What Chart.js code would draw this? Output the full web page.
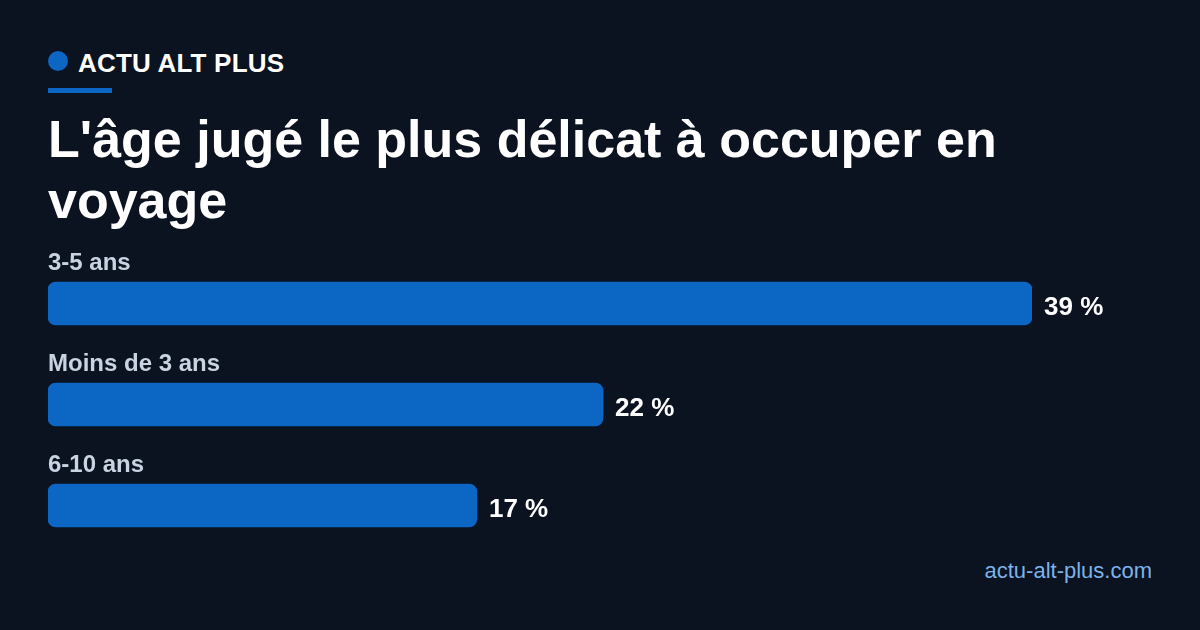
<!DOCTYPE html>
<html lang="fr">
<head>
<meta charset="utf-8">
<title>L'âge jugé le plus délicat à occuper en voyage</title>
<script src="https://cdn.jsdelivr.net/npm/chart.js@4/dist/chart.umd.min.js"></script>
<style>
  html, body { margin: 0; padding: 0; }
  body {
    width: 1200px; height: 630px; overflow: hidden; position: relative;
    background: #0b1220; color: #fff;
    font-family: "Liberation Sans", Arial, sans-serif;
  }
  .brand { position: absolute; left: 48px; top: 48px; display: flex; align-items: center; }
  .dot { width: 20px; height: 20px; border-radius: 50%; background: #0b66c4; margin-right: 10px; position: relative; top: -3px; }
  .brand span { font-weight: bold; font-size: 26px; letter-spacing: 0.2px; }
  .rule { position: absolute; left: 48px; top: 88px; width: 64px; height: 5px; background: #0b66c4; }
  h1 {
    position: absolute; left: 48px; top: 109px; width: 1104px; margin: 0;
    font-size: 52px; line-height: 61px; font-weight: bold;
  }
  .chart { position: absolute; left: 48px; top: 253px; width: 1104px; height: 303px; }
  .source { position: absolute; right: 48px; top: 558px; font-size: 22px; color: #7cb3ea; }
</style>
</head>
<body>
<div class="brand"><div class="dot"></div><span>ACTU ALT PLUS</span></div>
<div class="rule"></div>
<h1>L'âge jugé le plus délicat à occuper en voyage</h1>
<div class="chart"><canvas id="myChart"></canvas></div>
<div class="source">actu-alt-plus.com</div>

<script>
// donnees
const categories = ['3-5 ans', 'Moins de 3 ans', '6-10 ans'];
const values = [39, 22, 17];
const valueLabels = ['39 %', '22 %', '17 %'];

// libelles au-dessus des barres + valeur a droite
const barText = {
    id: 'barText',
    afterDatasetsDraw(chart) {
        const ctx = chart.ctx;
        const meta = chart.getDatasetMeta(0);
        ctx.save();
        meta.data.forEach((bar, i) => {
            const top = bar.y - bar.height / 2;
            ctx.font = 'bold 24px "Liberation Sans", Arial, sans-serif';
            ctx.fillStyle = '#c9d4e2';
            ctx.textAlign = 'left';
            ctx.textBaseline = 'alphabetic';
            ctx.fillText(categories[i], chart.chartArea.left, top - 12);

            ctx.font = 'bold 26px "Liberation Sans", Arial, sans-serif';
            ctx.fillStyle = '#ffffff';
            ctx.textBaseline = 'middle';
            ctx.fillText(valueLabels[i], bar.x + 12, bar.y + 4);
        });
        ctx.restore();
    }
};

new Chart(document.getElementById('myChart'), {
    type: 'bar',
    data: {
        labels: categories,
        datasets: [{
            data: values,
            backgroundColor: '#0b66c4',
            borderRadius: 8,
            borderSkipped: false,
            barThickness: 43
        }]
    },
    options: {
        indexAxis: 'y',
        responsive: true,
        maintainAspectRatio: false,
        animation: false,
        layout: { padding: { left: 0, right: 120, top: 0, bottom: 0 } },
        scales: {
            x: { display: false, min: 0, max: Math.max(...values) },
            y: { display: false, offset: true }
        },
        plugins: {
            legend: { display: false },
            tooltip: { enabled: false }
        }
    },
    plugins: [barText]
});
</script>
</body>
</html>
